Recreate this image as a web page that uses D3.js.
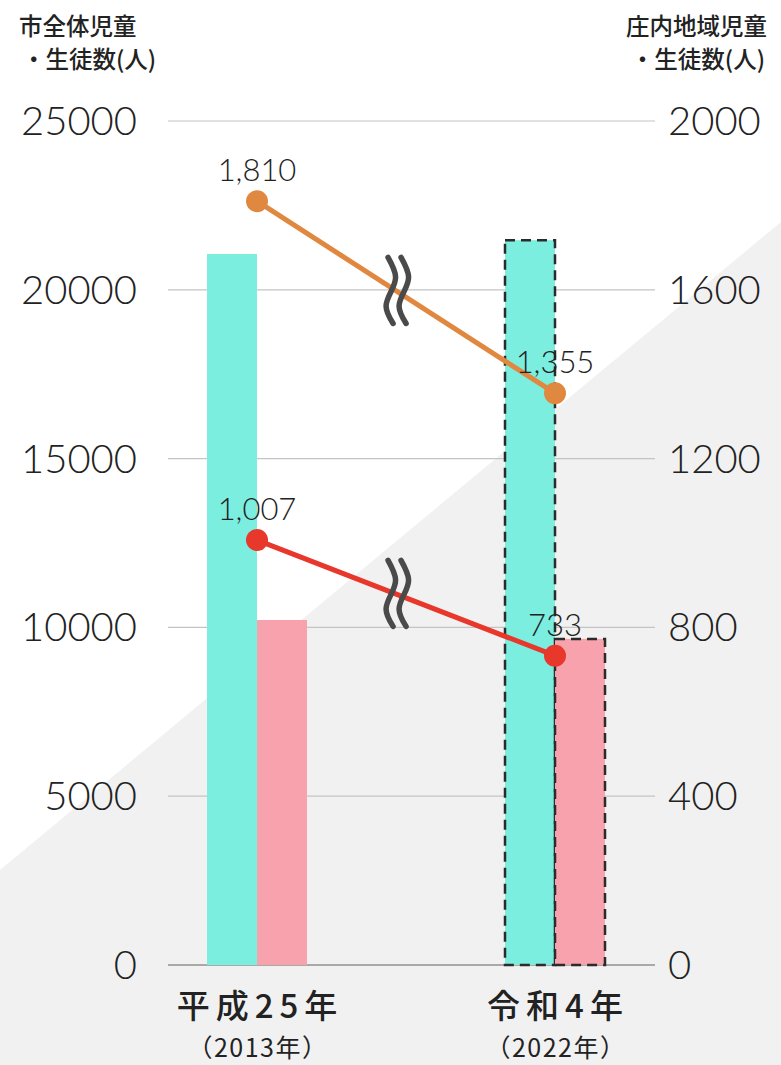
<!DOCTYPE html>
<html><head><meta charset="utf-8">
<script src="https://cdn.jsdelivr.net/npm/d3@7"></script>
<style>
html,body{margin:0;padding:0;background:#fff;}
svg{display:block;}
</style></head>
<body>
<script>
const categories = ["平成25年", "令和4年"];
const yearLabels = ["（2013年）", "（2022年）"];
const cityTotal = [21060, 21470];      // 市全体 児童
const citySecondary = [10220, 9660];   // 市全体 生徒
const shonaiChildren = [1810, 1355];    // 庄内地域 児童
const shonaiStudents = [1007, 733];     // 庄内地域 生徒
const leftTicks = [0, 5000, 10000, 15000, 20000, 25000];
const rightTicks = [0, 400, 800, 1200, 1600, 2000];

(function () {
const W = 781, H = 1065;
const svg = d3.select("body").append("svg").attr("width", W).attr("height", H);

// background diagonal
svg.append("rect").attr("width", W).attr("height", H).attr("fill", "#ffffff");
svg.append("polygon").attr("points", `0,870 ${W},222 ${W},${H} 0,${H}`).attr("fill", "#f1f1f1");

const plotTop = 121, plotBottom = 965, gx0 = 168, gx1 = 655;
const yL = d3.scaleLinear().domain([0, 25000]).range([plotBottom, plotTop]);
const yR = d3.scaleLinear().domain([0, 2000]).range([plotBottom, plotTop]);
const x = d3.scaleBand().domain(categories).range([108, 704]).padding(0);
const sub = d3.scaleBand().domain(["a", "b"]).range([-50, 50]).padding(0);

// gridlines
svg.append("g").selectAll("line").data(leftTicks).join("line")
  .attr("x1", gx0).attr("x2", gx1)
  .attr("y1", d => yL(d)).attr("y2", d => yL(d))
  .attr("stroke", d => d === 0 ? "#a9a9a9" : "#c4c4c4").attr("stroke-width", d => d === 0 ? 2 : 1.2);

// axis labels
const tickFont = "Lato, 'Noto Sans', sans-serif";
svg.append("g").selectAll("text").data(leftTicks).join("text")
  .attr("x", 137).attr("y", d => yL(d) + 14)
  .attr("text-anchor", "end").attr("font-family", tickFont).attr("font-weight", 300)
  .attr("font-size", 40).attr("fill", "#222").text(d => d);
svg.append("g").selectAll("text").data(rightTicks).join("text")
  .attr("x", 668).attr("y", d => yR(d) + 14)
  .attr("text-anchor", "start").attr("font-family", tickFont).attr("font-weight", 300)
  .attr("font-size", 40).attr("fill", "#222").text(d => d);

// bars
const cyan = "#7beee0", pink = "#f8a2ad";
categories.forEach((c, i) => {
  const cx = x(c) + x.bandwidth() / 2;
  const g = svg.append("g");
  const bars = [
    {v: cityTotal[i], k: "a", col: cyan},
    {v: citySecondary[i], k: "b", col: pink}
  ];
  g.selectAll("rect").data(bars).join("rect")
    .attr("x", d => cx + sub(d.k)).attr("width", sub.bandwidth())
    .attr("y", d => yL(d.v)).attr("height", d => yL(0) - yL(d.v))
    .attr("fill", d => d.col)
    .attr("stroke", i === 1 ? "#2b2b2b" : "none")
    .attr("stroke-width", 2.5).attr("stroke-dasharray", i === 1 ? "10,6" : null);
});

// lines
const series = [
  {vals: shonaiChildren, col: "#e0883f"},
  {vals: shonaiStudents, col: "#e8372b"}
];
const px = c => x(c) + x.bandwidth() / 2;
series.forEach(s => {
  const pts = categories.map((c, i) => [px(c), yR(s.vals[i])]);
  svg.append("path").attr("d", d3.line()(pts)).attr("stroke", s.col).attr("stroke-width", 5).attr("fill", "none");
  // break marks
  const t = 0.47;
  const bx = pts[0][0] + (pts[1][0] - pts[0][0]) * t;
  const by = pts[0][1] + (pts[1][1] - pts[0][1]) * t;
  [-6, 7].forEach(off => {
    const cx = bx + off, t0 = by - 34, b0 = by + 32;
    svg.append("path")
      .attr("d", `M${cx - 3},${t0} C${cx + 7},${t0 + 18} ${cx + 6},${by - 12} ${cx},${by} S${cx - 8},${b0 - 16} ${cx + 2},${b0}`)
      .attr("stroke", "#4a4a4a").attr("stroke-width", 5.5).attr("fill", "none").attr("stroke-linecap", "round");
  });
  svg.append("g").selectAll("circle").data(pts).join("circle")
    .attr("cx", d => d[0]).attr("cy", d => d[1]).attr("r", 11).attr("fill", s.col);
  svg.append("g").selectAll("text").data(categories).join("text")
    .attr("x", (c) => px(c)).attr("y", (c, i) => yR(s.vals[i]) - 20)
    .attr("text-anchor", "middle").attr("font-family", tickFont).attr("font-weight", 300)
    .attr("font-size", 31).attr("fill", "#222").text((c, i) => d3.format(",")(s.vals[i]));
});

// x labels
const jp = "'Noto Sans CJK JP', sans-serif";
svg.append("g").selectAll("text").data(categories).join("text")
  .attr("x", c => px(c) + 3).attr("y", 1018).attr("text-anchor", "middle")
  .attr("font-family", jp).attr("font-weight", 500).attr("font-size", 33).attr("letter-spacing", 6)
  .attr("fill", "#222").text(c => c);
svg.append("g").selectAll("text").data(yearLabels).join("text")
  .attr("x", (d, i) => px(categories[i]) + 1).attr("y", 1057).attr("text-anchor", "middle")
  .attr("font-family", jp).attr("font-weight", 400).attr("font-size", 25).attr("letter-spacing", 1.5)
  .attr("fill", "#222").text(d => d);

// axis titles
const t1 = svg.append("text").attr("font-family", jp).attr("font-weight", 500).attr("font-size", 23.5).attr("fill", "#222");
t1.append("tspan").attr("x", 19).attr("y", 35).text("市全体児童");
t1.append("tspan").attr("x", 22).attr("y", 68).text("・生徒数(人)");
const t2 = svg.append("text").attr("font-family", jp).attr("font-weight", 500).attr("font-size", 23.5).attr("fill", "#222").attr("text-anchor", "end");
t2.append("tspan").attr("x", 767).attr("y", 35).text("庄内地域児童");
t2.append("tspan").attr("x", 765).attr("y", 68).text("・生徒数(人)");
})();
</script>
</body></html>
